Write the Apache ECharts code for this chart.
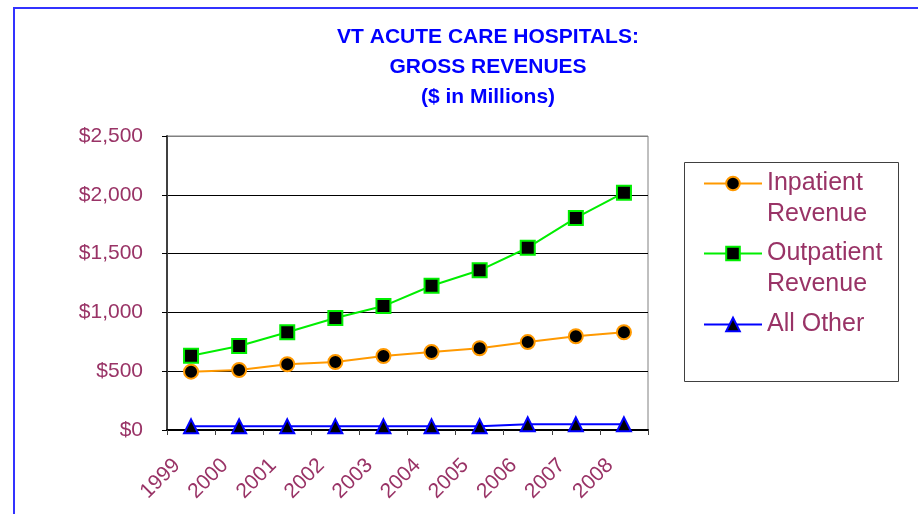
<!DOCTYPE html>
<html lang="en">
<head>
    <meta charset="UTF-8">
    <title>VT Acute Care Hospitals: Gross Revenues</title>
    <script src="https://cdn.jsdelivr.net/npm/echarts@6/dist/echarts.min.js"></script>
</head>
<body style="margin: 0; background: #fff">
<div id="chart" style="width: 918px; height: 514px"></div>

<script>
    // values ($ millions)
    let years = ['1999', '2000', '2001', '2002', '2003', '2004', '2005', '2006', '2007', '2008'];
    let inpatient = [496, 510, 559, 578, 629, 663, 695, 748, 797, 831];
    let outpatient = [632, 714, 831, 952, 1054, 1227, 1358, 1550, 1803, 2018];
    let allOther = [31, 31, 31, 31, 31, 31, 31, 48, 48, 48];

    let labelColor = '#993366';
    let font = "'Liberation Sans', Arial, sans-serif";

    function makeSeries(name, data, symbol, color) {
        return {
            name: name,
            type: 'line',
            data: data,
            symbol: symbol,
            symbolSize: 14,
            lineStyle: {color: color, width: 2},
            itemStyle: {color: '#000', borderColor: color, borderWidth: 2},
            emphasis: {disabled: true},
            z: 3
        };
    }

    // one legend per item so the icon lines up with the first text line
    function legendAt(name, top, twoLines) {
        return {
            data: [name],
            left: 703,
            top: top,
            orient: 'vertical',
            padding: 0,
            itemWidth: 58,
            itemHeight: 17,
            selectedMode: false,
            formatter: function (n) {
                // empty first line keeps the middle line centred on the icon
                return twoLines ? '\n' + n.replace(' ', '\n') : n;
            },
            textStyle: {color: labelColor, fontSize: 25, fontFamily: font, lineHeight: 31}
        };
    }

    let chart = echarts.init(document.getElementById('chart'));
    let option = {
        animation: false,
        graphic: [
            {type: 'rect', shape: {x: 14, y: 8, width: 1000, height: 1000},
                style: {fill: 'none', stroke: '#3333ff', lineWidth: 2}, silent: true},
            {type: 'rect', shape: {x: 684.5, y: 162.5, width: 214, height: 219},
                style: {fill: '#fff', stroke: '#404040', lineWidth: 1}, silent: true, z: -1},
            {type: 'text', x: 488, y: 22, silent: true,
                style: {
                    text: 'VT ACUTE CARE HOSPITALS:\nGROSS REVENUES\n($ in Millions)',
                    fill: '#0000ff', font: 'bold 21px ' + font, lineHeight: 30,
                    align: 'center', verticalAlign: 'top'
                }}
        ],
        legend: [
            legendAt('Inpatient Revenue', 137, true),
            legendAt('Outpatient Revenue', 207, true),
            legendAt('All Other', 309, false)
        ],
        grid: {
            left: 167, top: 136, right: 270, bottom: 84,
            show: true, borderColor: '#808080', borderWidth: 1
        },
        xAxis: {
            type: 'category',
            data: years,
            boundaryGap: true,
            axisLine: {lineStyle: {color: '#000', width: 2}},
            axisTick: {show: true, length: 5, lineStyle: {color: '#404040'}},
            axisLabel: {
                color: labelColor, fontSize: 21, fontFamily: font,
                rotate: 45, margin: 18, interval: 0, padding: [0, 20, 0, 0]
            }
        },
        yAxis: {
            type: 'value',
            min: 0, max: 2500, interval: 500,
            axisLine: {show: true, lineStyle: {color: '#404040', width: 2}},
            axisTick: {show: true, length: 5, lineStyle: {color: '#000'}},
            axisLabel: {
                color: labelColor, fontSize: 21, fontFamily: font, margin: 24,
                formatter: function (v) { return '$' + v.toLocaleString('en-US'); }
            },
            splitLine: {
                show: true,
                lineStyle: {color: ['#000', '#000', '#000', '#000', '#000', '#808080'], width: 1}
            }
        },
        series: [
            makeSeries('Inpatient Revenue', inpatient, 'circle', '#ff9900'),
            makeSeries('Outpatient Revenue', outpatient, 'rect', '#00ee00'),
            makeSeries('All Other', allOther, 'triangle', '#0000ff')
        ]
    };
    chart.setOption(option);
</script>
</body>
</html>
